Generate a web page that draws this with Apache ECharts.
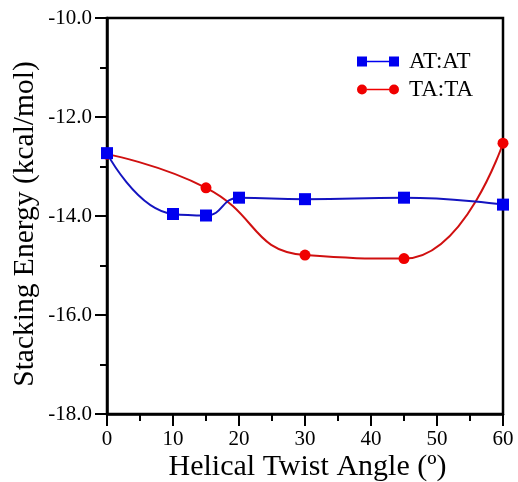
<!DOCTYPE html>
<html><head><meta charset="utf-8">
<script src="https://cdn.jsdelivr.net/npm/echarts@6/dist/echarts.min.js"></script>
<style>html,body{margin:0;padding:0;background:#fff}#c{width:518px;height:482px}</style>
</head><body><div id="c"></div>
<script>
const angles = [0, 10, 15, 20, 30, 45, 60];
const atatEnergy = [-12.73, -13.96, -13.99, -13.63, -13.66, -13.63, -13.77];
const tataAngles = [0, 15, 30, 45, 60];
const tataEnergy = [-12.75, -13.43, -14.79, -14.86, -12.53];
const yTicks = [-18, -16, -14, -12, -10];
const xTicks = [0, 10, 20, 30, 40, 50, 60];

const FONT = '"Liberation Serif", "Times New Roman", serif';
const chart = echarts.init(document.getElementById('c'));
chart.setOption({
  animation: false,
  backgroundColor: '#fff',
  textStyle: { fontFamily: FONT, color: '#000' },
  grid: { left: 107, right: 15, top: 18, bottom: 68, show: true, borderColor: '#000', borderWidth: 2.5,
          containLabel: false, outerBoundsMode: 'none' },
  legend: {
    orient: 'vertical', left: 352, top: 45, itemWidth: 42, itemHeight: 10, itemGap: 5,
    textStyle: { fontFamily: FONT, fontSize: 23, color: '#000', padding: [0, 0, 0, 5] },
    data: [
      { name: 'AT:AT', icon: 'path://M0,0L10,0L10,10L0,10Z M10,4.2L32,4.2L32,5.8L10,5.8Z M32,0L42,0L42,10L32,10Z' },
      { name: 'TA:TA', icon: 'path://M0,5A5,5,0,1,1,10,5A5,5,0,1,1,0,5Z M10,4.2L32,4.2L32,5.8L10,5.8Z M32,5A5,5,0,1,1,42,5A5,5,0,1,1,32,5Z' }
    ]
  },
  xAxis: {
    type: 'value', min: 0, max: 60, interval: 10,
    name: 'Helical Twist Angle (º)', nameLocation: 'middle', nameGap: 38, nameMoveOverlap: false,
    nameTextStyle: { fontFamily: FONT, fontSize: 30, color: '#000', padding: [0, 0, 0, 5] },
    axisLine: { show: true, lineStyle: { color: '#000', width: 2.5 } },
    axisTick: { show: true, length: 12, lineStyle: { color: '#000', width: 2 } },
    minorTick: { show: true, splitNumber: 2, length: 7, lineStyle: { color: '#000', width: 2 } },
    axisLabel: { fontFamily: FONT, fontSize: 21, color: '#000', margin: 15,
      formatter: v => xTicks.includes(v) ? String(v) : '' },
    splitLine: { show: false }
  },
  yAxis: {
    type: 'value', min: -18, max: -10, interval: 2,
    name: 'Stacking Energy (kcal/mol)', nameLocation: 'middle', nameGap: 67, nameMoveOverlap: false,
    nameTextStyle: { fontFamily: FONT, fontSize: 29.5, color: '#000', padding: [0, 16, 0, 0] },
    axisLine: { show: true, lineStyle: { color: '#000', width: 2.5 } },
    axisTick: { show: true, length: 12, lineStyle: { color: '#000', width: 2 } },
    minorTick: { show: true, splitNumber: 2, length: 7, lineStyle: { color: '#000', width: 2 } },
    axisLabel: { fontFamily: FONT, fontSize: 21, color: '#000', margin: 15,
      formatter: v => yTicks.includes(v) ? v.toFixed(1) : '' },
    splitLine: { show: false }
  },
  series: [
    {
      name: 'AT:AT', type: 'line', smooth: 0.5,
      data: angles.map((a, i) => [a, atatEnergy[i]]),
      symbol: 'rect', symbolSize: 12,
      itemStyle: { color: '#0000f0' },
      lineStyle: { color: '#1414c0', width: 2 },
      z: 3
    },
    {
      name: 'TA:TA', type: 'line', smooth: 0.5,
      data: tataAngles.map((a, i) => [a, tataEnergy[i]]),
      symbol: 'circle', symbolSize: 11,
      itemStyle: { color: '#f00000' },
      lineStyle: { color: '#d01010', width: 2 },
      z: 2
    }
  ]
});
</script></body></html>
